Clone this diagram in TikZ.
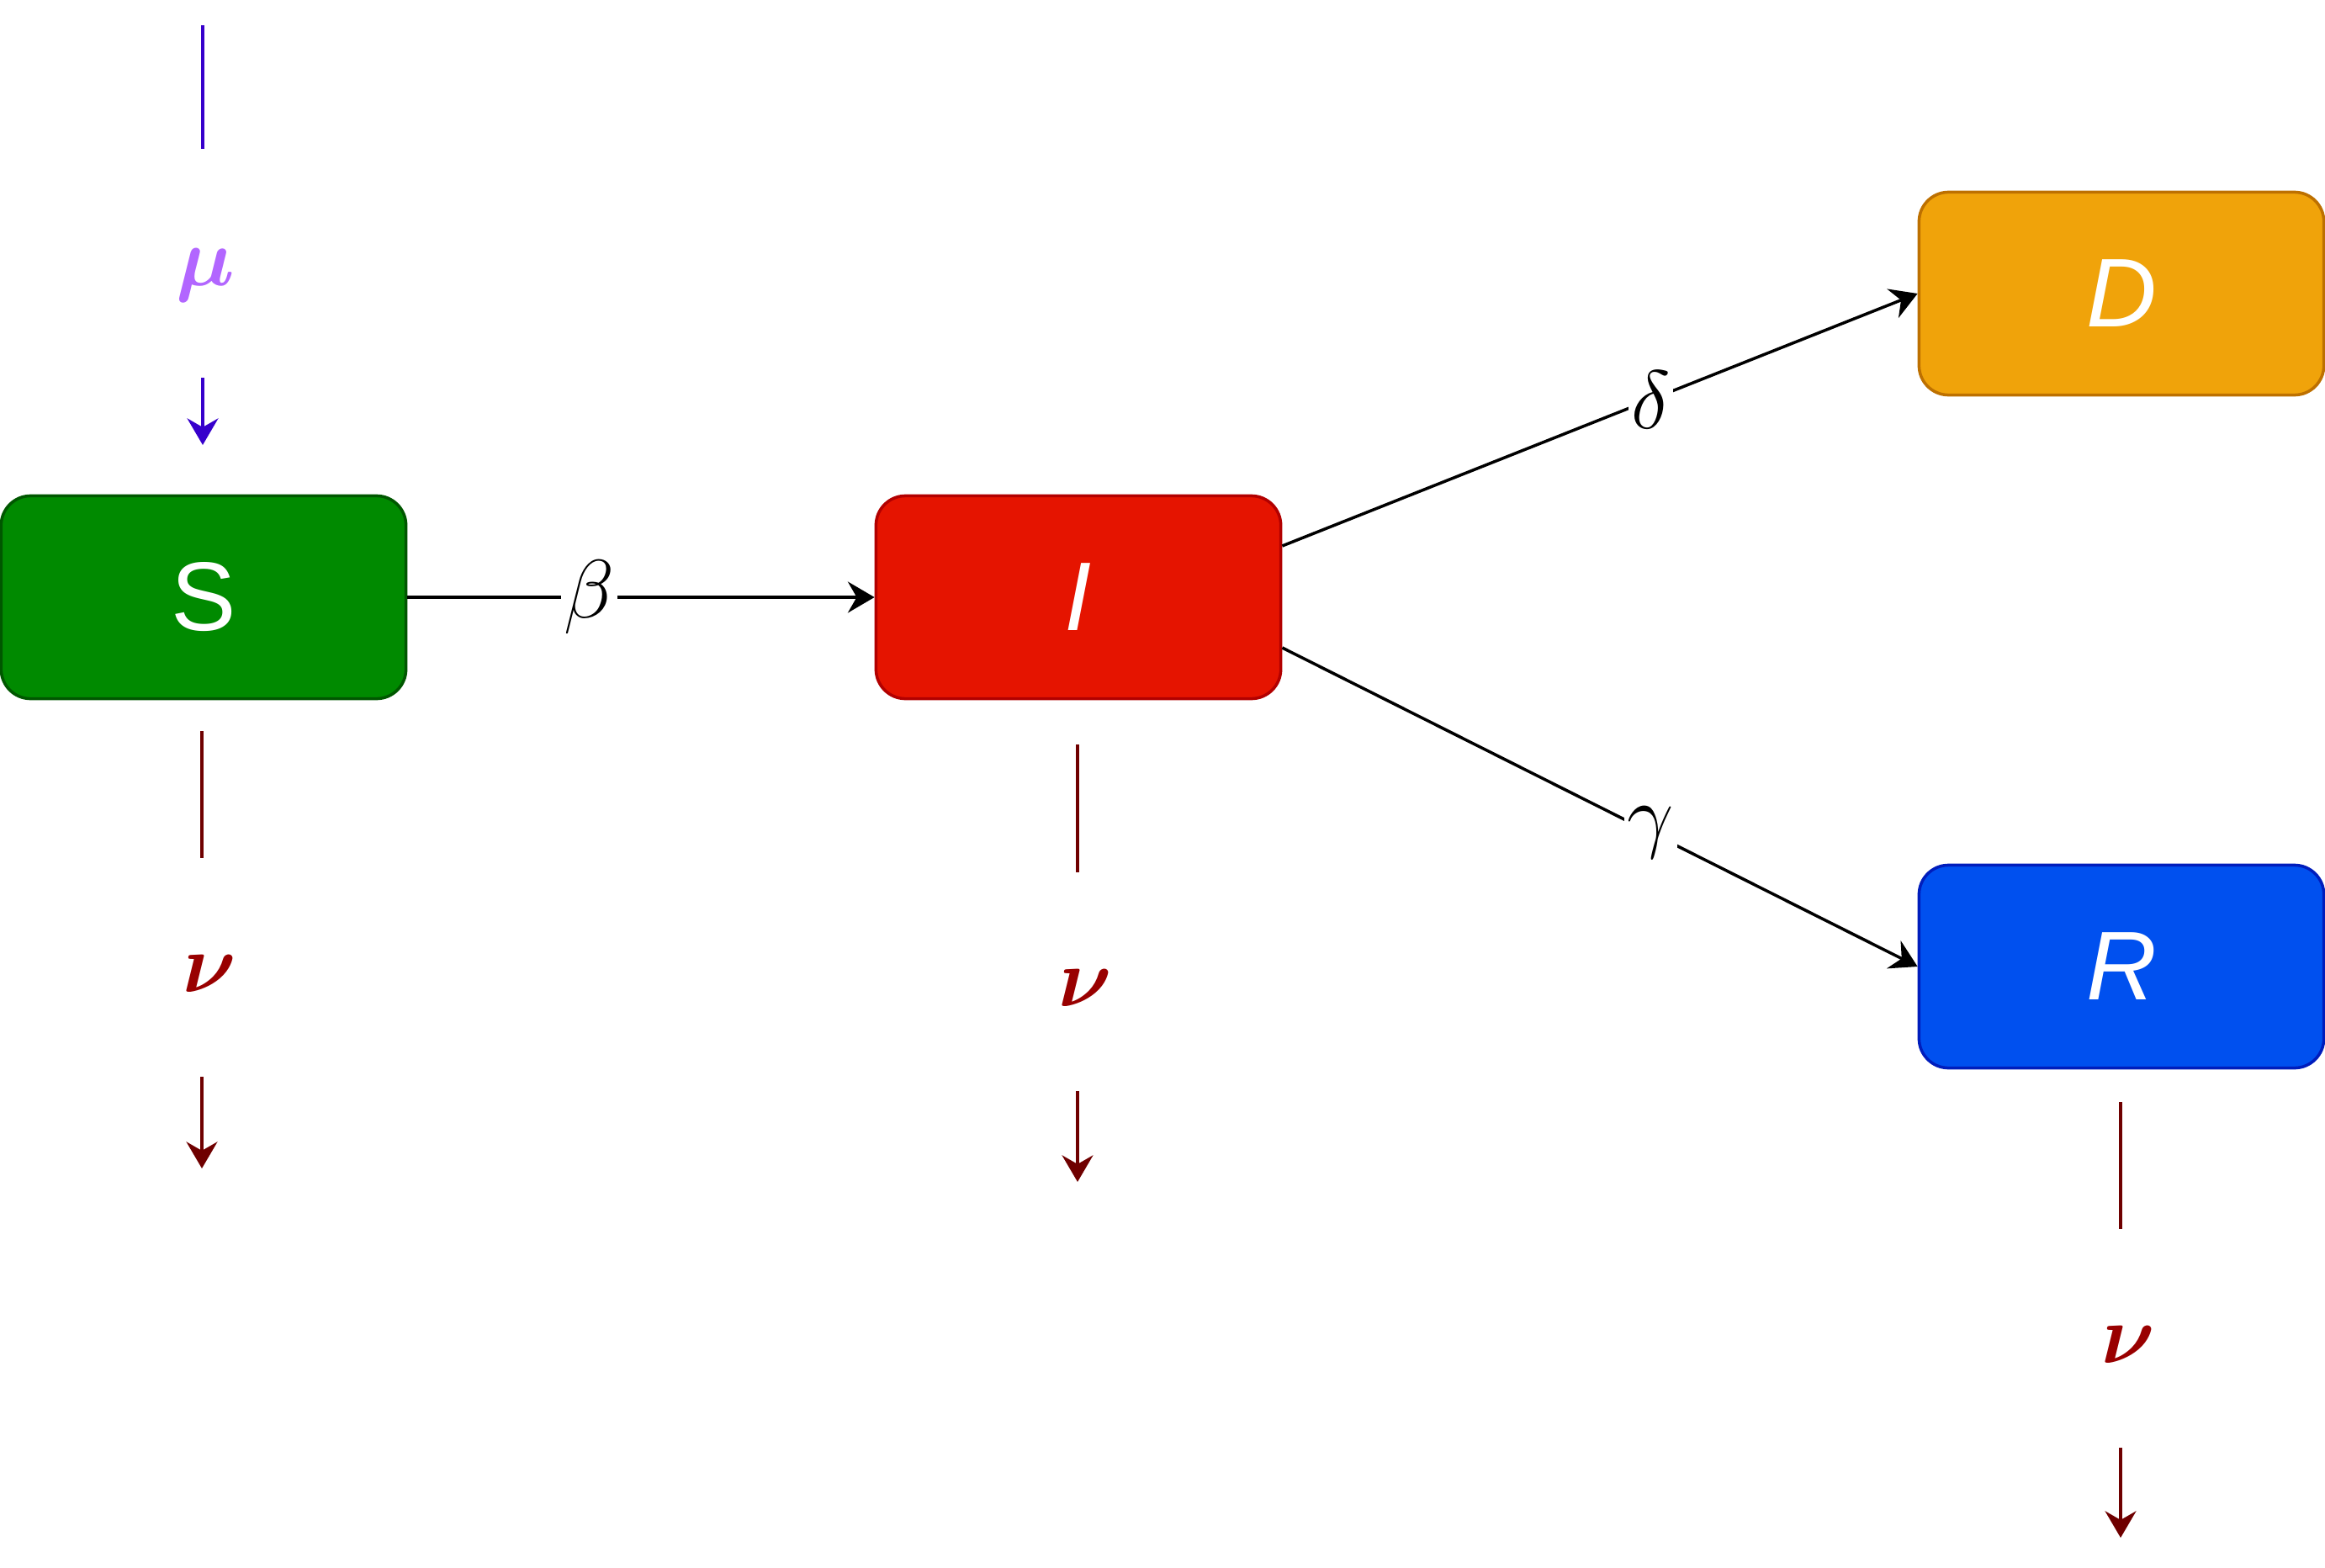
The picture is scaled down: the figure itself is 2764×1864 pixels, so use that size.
\RequirePackage{fix-cm}
\documentclass[tikz,border=0pt]{standalone}
\usepackage{amsmath}
\usepackage{bm}
\usepackage{fontspec}
\newfontfamily\boxfont{Liberation Sans}
\usetikzlibrary{arrows.meta}
\definecolor{sfill}{HTML}{008A00}
\definecolor{sline}{HTML}{005700}
\definecolor{ifill}{HTML}{E51400}
\definecolor{iline}{HTML}{B20000}
\definecolor{dfill}{HTML}{F0A30A}
\definecolor{dline}{HTML}{BD7000}
\definecolor{rfill}{HTML}{0050EF}
\definecolor{rline}{HTML}{001DBC}
\definecolor{mucol}{HTML}{3700CC}
\definecolor{mutext}{HTML}{B266FF}
\definecolor{nucol}{HTML}{6F0000}
\definecolor{nutext}{HTML}{990000}
\begin{document}
\begin{tikzpicture}[x=0.01cm,y=-0.01cm,
  box/.style={rounded corners=0.35cm,minimum width=4.81cm,minimum height=2.41cm,
    line width=1pt,text=white,font=\boxfont\fontsize{33}{40}\selectfont},
  flow/.style={line width=1pt,-{Stealth[length=9pt,width=10.5pt,inset=3pt]}},
  rate/.style={fill=white,inner sep=1pt,font=\fontsize{28}{34}\selectfont},
  gaplbl/.style={inner sep=0pt,minimum width=1cm,font=\fontsize{28}{34}\selectfont}]
\useasboundingbox (0,0) rectangle (2764,1864);
% compartments
\node[box,fill=sfill,draw=sline] (S) at (242,710) {S};
\node[box,fill=ifill,draw=iline] (I) at (1282,710) {\itshape I};
\node[box,fill=dfill,draw=dline] (D) at (2522,349) {\itshape D};
\node[box,fill=rfill,draw=rline] (R) at (2522,1149) {\itshape R};
% transitions
\draw[flow] (S) -- node[rate,pos=0.39] (beta) {$\beta$} (I);
\coordinate (Iup) at ([yshift=0.61cm]I.east);
\coordinate (Ilo) at ([yshift=-0.6cm]I.east);
\draw[flow] (Iup) -- node[rate,pos=0.58] (delta) {$\delta$} (D.west);
\draw[flow] (Ilo) -- node[rate,pos=0.58] (gamma) {$\gamma$} (R.west);
% births
\coordinate (muin) at (241,30);
\coordinate (muout) at (241,529);
\node[gaplbl,minimum height=2.7cm,
  label={[gaplbl,text=mutext,yshift=-0.14cm,xshift=0.03cm]center:$\bm{\mu}$}] (mu) at (241,313) {};
\draw[mucol,line width=1pt] (muin) -- (mu);
\draw[mucol,flow] (mu) -- (muout);
% deaths
\foreach \n/\x/\ya/\ym/\yb in {S/240/869/1150/1389,I/1281/885/1167/1405,R/2521/1310/1591/1828}{
  \coordinate (\n top) at (\x,\ya);
  \coordinate (\n end) at (\x,\yb);
  \node[gaplbl,minimum height=2.58cm,
    label={[gaplbl,text=nutext,yshift=-0.08cm,xshift=0.09cm]center:$\bm{\nu}$}] (nu\n) at (\x,\ym) {};
  \draw[nucol,line width=1pt] (\n top) -- (nu\n);
  \draw[nucol,flow] (nu\n) -- (\n end);
}
\end{tikzpicture}
\end{document}
